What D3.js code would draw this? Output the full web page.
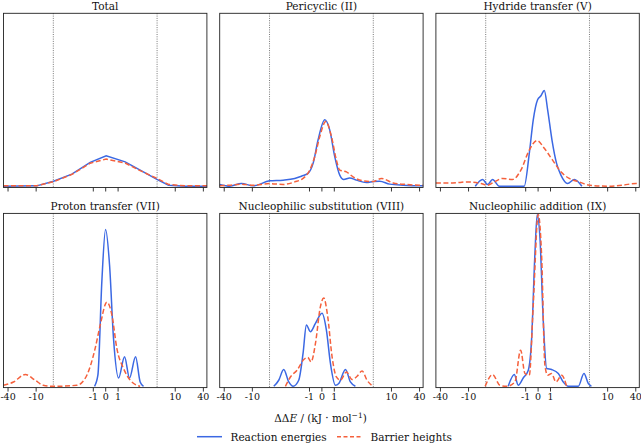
<!doctype html>
<html lang="en">

<head>
    <meta charset="utf-8">
    <title>Energy error distributions</title>
    <script src="https://cdn.jsdelivr.net/npm/d3@7"></script>
    <style>
        body { margin: 0; background: #fff; }
        svg { display: block; }
        svg text { font-family: "DejaVu Serif", "Liberation Serif", serif; }
    </style>
</head>

<body>
    <svg></svg>
    <script>
        var width = 641;
        var height = 444;

        // kcal/mol threshold in kJ/mol (dotted lines)
        var chemAcc = 4.184;

        var titles = ["Total", "Pericyclic (II)", "Hydride transfer (V)",
            "Proton transfer (VII)", "Nucleophilic substitution (VIII)", "Nucleophilic addition (IX)"];

        var tickValues = [-40, -10, -1, 0, 1, 10, 40];
        var tickLabels = ["-40", "-10", "-1", "0", "1", "10", "40"];

        // [ΔΔE (kJ/mol), density]
        var totalReaction = [[-48.8, 0], [-9.4, 0.002], [-4.17, 0.029], [-2.69, 0.07], [-1.21, 0.138],
            [0.08, 0.176], [1.61, 0.141], [2.82, 0.093], [4.17, 0.039], [7.35, 0.006], [16.7, 0], [48.8, 0]];
        var totalBarrier = [[-48.8, 0.002], [-9.4, 0.003], [-4.17, 0.026], [-2.69, 0.068], [-1.21, 0.133],
            [0.08, 0.157], [1.61, 0.134], [2.82, 0.09], [4.17, 0.045], [7.35, 0.01], [16.7, 0.002], [48.8, 0.002]];

        var pericyclicReaction = [[-48.8, 0.01], [-29.8, 0], [-16.7, 0.016], [-9.4, 0.002], [-4.17, 0.031],
            [-3.09, 0.035], [-2.15, 0.045], [-1.61, 0.058], [-1.08, 0.074], [-0.67, 0.132], [-0.27, 0.267],
            [0.27, 0.384], [0.67, 0.326], [1.08, 0.17], [1.48, 0.064], [1.8, 0.039], [2.28, 0.048],
            [2.82, 0.035], [3.63, 0.021], [4.17, 0.027], [5.74, 0.029], [9.4, 0.012], [18.2, 0.006],
            [41.3, 0.003], [48.8, 0.003]];
        var pericyclicBarrier = [[-48.8, 0.003], [-29.8, 0.006], [-16.7, 0.012], [-9.4, 0.006], [-4.17, 0.015],
            [-3.09, 0.01], [-2.15, 0.025], [-1.48, 0.045], [-0.94, 0.093], [-0.54, 0.17], [-0.13, 0.287],
            [0.35, 0.374], [0.81, 0.287], [1.21, 0.151], [1.48, 0.093], [2.02, 0.083], [2.55, 0.054],
            [3.36, 0.031], [4.17, 0.027], [6.25, 0.045], [11.1, 0.019], [21.4, 0.01], [41.3, 0.006], [48.8, 0.006]];

        var hydrideReaction = [[-7.01, 0], [-4.88, 0.039], [-4.03, 0.01], [-3.63, 0.039], [-3.09, 0],
            [-1.08, 0], [-0.67, 0.19], [-0.35, 0.384], [0, 0.5], [0.27, 0.523], [0.54, 0.554], [0.81, 0.442],
            [1.16, 0.267], [1.53, 0.132], [1.88, 0.064], [2.42, 0.016], [2.96, 0.039], [3.57, 0]];
        var hydrideBarrier = [[-48.8, 0.019], [-21.4, 0.019], [-10.2, 0.025], [-5.3, 0.016], [-4.03, 0.006],
            [-3.63, 0.019], [-2.82, 0.045], [-2.02, 0.039], [-1.35, 0.093], [-0.67, 0.209], [-0.05, 0.264],
            [0.54, 0.219], [1.21, 0.151], [1.88, 0.083], [2.55, 0.045], [3.36, 0.025], [4.17, 0.006],
            [10.2, 0], [21.4, 0.006], [41.3, 0.016], [48.8, 0.012]];

        var protonReaction = [[-0.86, 0], [-0.59, 0.064], [-0.27, 0.607], [0.03, 0.907], [0.35, 0.703],
            [0.67, 0.277], [1.08, 0.048], [1.56, 0.171], [1.96, 0.048], [2.45, 0.171], [2.82, 0.025], [3.09, 0]];
        var protonBarrier = [[-48.8, 0.006], [-29.8, 0.025], [-16.7, 0.068], [-10.2, 0.035], [-6.9, 0.006],
            [-4.17, 0], [-2.28, 0.006], [-1.48, 0.064], [-0.81, 0.219], [-0.4, 0.355], [0.13, 0.486],
            [0.54, 0.413], [0.94, 0.219], [1.48, 0.103], [2.02, 0.035], [2.55, 0.006], [2.82, 0]];

        var substitutionReaction = [[-3.84, 0], [-3.44, 0.035], [-3.04, 0.097], [-2.63, 0.025], [-2.28, 0],
            [-1.83, 0.035], [-1.48, 0.19], [-1.21, 0.355], [-0.89, 0.316], [-0.48, 0.364], [0.05, 0.422],
            [0.4, 0.326], [0.73, 0.132], [1.13, 0.006], [1.4, 0.016], [1.94, 0.097], [2.34, 0.025], [2.74, 0]];
        var substitutionBarrier = [[-2.9, 0], [-2.5, 0.054], [-1.96, 0.093], [-1.42, 0.155], [-1.1, 0.167],
            [-0.83, 0.141], [-0.48, 0.248], [-0.08, 0.461], [0.19, 0.51], [0.51, 0.403], [0.86, 0.171],
            [1.21, 0.054], [1.53, 0.035], [2.02, 0.083], [2.47, 0.039], [2.88, 0.058], [3.28, 0.089],
            [3.68, 0.035], [4.17, 0]];

        var additionReaction = [[-2.37, 0], [-1.88, 0.068], [-1.56, 0.006], [-1.16, 0.048], [-0.75, 0.093],
            [-0.48, 0.277], [-0.22, 0.76], [-0.03, 0.994], [0.19, 0.859], [0.46, 0.374], [0.73, 0.103],
            [1.13, 0.097], [1.67, 0.074], [2.07, 0.025], [2.47, 0], [3.28, 0], [3.74, 0.074], [4.09, 0.016], [4.6, 0]];
        var additionBarrier = [[-4.3, 0], [-3.63, 0.068], [-3.04, 0.006], [-2.5, 0], [-1.83, 0.025],
            [-1.37, 0.209], [-1.02, 0.074], [-0.67, 0.064], [-0.35, 0.471], [0.05, 0.994], [0.32, 0.762],
            [0.59, 0.122], [0.81, 0.064], [1.13, 0.074], [1.48, 0.025], [1.94, 0.064], [2.34, 0]];

        var reactionSeries = [totalReaction, pericyclicReaction, hydrideReaction,
            protonReaction, substitutionReaction, additionReaction];
        var barrierSeries = [totalBarrier, pericyclicBarrier, hydrideBarrier,
            protonBarrier, substitutionBarrier, additionBarrier];

        var blue = "#3b68e3";
        var red = "#f5603c";

        // symmetric log transform: linear inside +-chemAcc, log10 outside
        var linScale = 1 / (1 - 1 / 10);
        function symlogT(x) {
            var a = Math.abs(x);
            if (a <= chemAcc) return x;
            return Math.sign(x) * chemAcc * (1 + Math.log10(a / chemAcc) / linScale);
        }
        var xLimit = 48.8;

        var panelW = 203.4;
        var panelH = 174.2;
        var panelLefts = [3.5, 219.7, 435.9];
        var panelTops = [13.3, 213.4];

        var svg = d3.select('svg').attr('width', width).attr('height', height);

        var line = d3.line();

        titles.forEach(function (title, i) {
            var col = i % 3, row = Math.floor(i / 3);
            var x0 = panelLefts[col], y0 = panelTops[row];

            var xLin = d3.scaleLinear()
                .domain([symlogT(-xLimit), symlogT(xLimit)])
                .range([0, panelW]);
            var xScale = function (v) { return xLin(symlogT(v)); };
            var yScale = d3.scaleLinear()
                .domain([-0.0075, 1.0])
                .range([panelH, 0]);

            var g = svg.append('g').attr('transform', 'translate(' + x0 + ',' + y0 + ')');

            // dotted threshold lines
            [-chemAcc, chemAcc].forEach(function (v) {
                g.append('line')
                    .attr('x1', xScale(v)).attr('x2', xScale(v))
                    .attr('y1', 0).attr('y2', panelH)
                    .attr('stroke', '#555').attr('stroke-width', 0.8)
                    .attr('stroke-dasharray', '1,1.3');
            });

            line.x(function (d) { return xScale(d[0]); })
                .y(function (d) { return yScale(d[1]); })
                .curve(i === 0 ? d3.curveLinear : d3.curveMonotoneX);

            g.append('path')
                .attr('d', line(reactionSeries[i]))
                .attr('fill', 'none').attr('stroke', blue).attr('stroke-width', 1.5);

            g.append('path')
                .attr('d', line(barrierSeries[i]))
                .attr('fill', 'none').attr('stroke', red).attr('stroke-width', 1.5)
                .attr('stroke-dasharray', '5,2.5');

            // frame
            g.append('rect')
                .attr('width', panelW).attr('height', panelH)
                .attr('fill', 'none').attr('stroke', '#222').attr('stroke-width', 0.9);

            var xAxis = d3.axisBottom(xLin)
                .tickValues(tickValues.map(symlogT))
                .tickFormat(function (d, k) { return row === 1 ? tickLabels[k] : ''; })
                .tickSize(4)
                .tickPadding(2);

            var ax = g.append('g')
                .attr('transform', 'translate(0,' + panelH + ')')
                .call(xAxis);
            ax.select('.domain').remove();
            ax.selectAll('line').attr('stroke', '#222').attr('stroke-width', 0.9);
            ax.selectAll('text')
                .attr('font-family', null)
                .attr('font-size', '9.5px').attr('fill', '#111');

            g.append('text')
                .attr('x', panelW / 2).attr('y', -3.5)
                .attr('text-anchor', 'middle')
                .attr('font-size', '10.5px').attr('fill', '#111')
                .text(title);
        });

        // axis label
        var label = svg.append('text')
            .attr('x', 320.5).attr('y', 422)
            .attr('text-anchor', 'middle')
            .attr('font-size', '10.5px').attr('fill', '#111');
        label.append('tspan').text('ΔΔ');
        label.append('tspan').attr('font-style', 'italic').text('E');
        label.append('tspan').text(' / (kJ · mol');
        label.append('tspan').attr('font-size', '7.5px').attr('dy', -4.5).text('−1');
        label.append('tspan').attr('dy', 4.5).text(')');

        // legend
        var legend = svg.append('g');
        legend.append('line')
            .attr('x1', 197).attr('x2', 222).attr('y1', 436.7).attr('y2', 436.7)
            .attr('stroke', blue).attr('stroke-width', 1.5);
        legend.append('text')
            .attr('x', 230.5).attr('y', 440.5)
            .attr('font-size', '10.5px').attr('fill', '#111')
            .text('Reaction energies');
        legend.append('line')
            .attr('x1', 337).attr('x2', 362).attr('y1', 436.7).attr('y2', 436.7)
            .attr('stroke', red).attr('stroke-width', 1.5)
            .attr('stroke-dasharray', '4,2.5');
        legend.append('text')
            .attr('x', 370.5).attr('y', 440.5)
            .attr('font-size', '10.5px').attr('fill', '#111')
            .text('Barrier heights');
    </script>

</body>

</html>
